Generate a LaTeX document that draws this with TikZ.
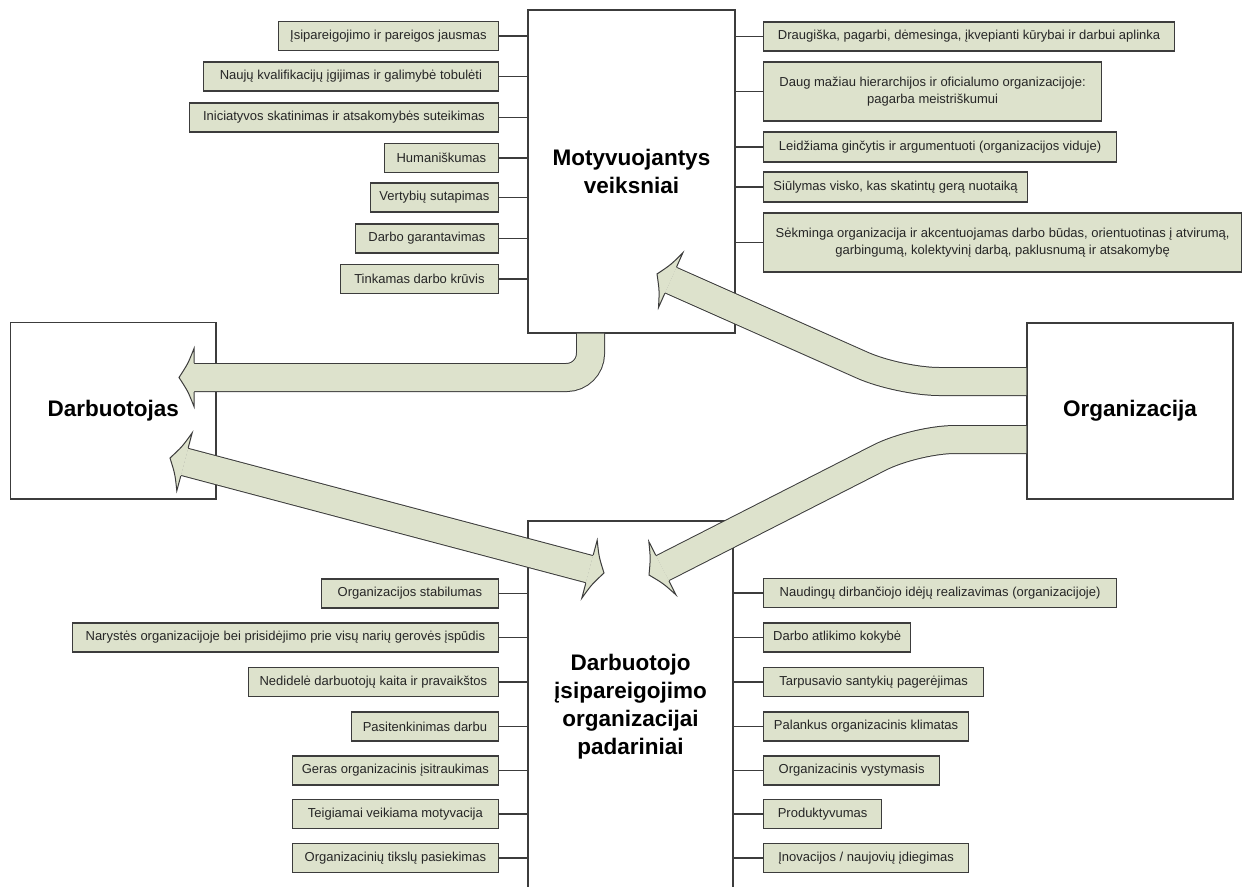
\documentclass[tikz,border=0pt]{standalone}
\usepackage{fontspec}
\setmainfont{Liberation Sans}
\usetikzlibrary{calc}
\definecolor{bandfill}{RGB}{221,226,204}
\definecolor{edgecol}{RGB}{60,60,60}
\definecolor{txtcol}{RGB}{38,38,38}
\newcommand\headpath[5]{%
  \coordinate (hm1) at ($(#2)!0.5!(#3)$);
  \coordinate (hm2) at ($(#4)!0.5!(#3)$);
  \filldraw[head] (#1) -- (#2) .. controls ($(hm1)!0.1!90:(#3)$) .. (#3)
     .. controls ($(hm2)!0.1!-90:(#3)$) .. (#4) -- (#5);}
\begin{document}
\begin{tikzpicture}[x=1pt,y=-1pt,
  bigbox/.style={draw=edgecol, line width=1.2pt, fill=white, font=\bfseries\fontsize{22.5}{28}\selectfont, align=center, inner sep=0pt, text=black},
  lbl/.style={draw=edgecol, line width=1.2pt, fill=bandfill, font=\fontsize{13}{16.5}\selectfont, align=center, inner sep=0pt, minimum height=29pt, text=txtcol},
  lblL/.style={lbl, anchor=east},
  lblR/.style={lbl, anchor=west},
  link/.style={draw=edgecol, line width=1.1pt},
  band/.style={draw=edgecol, line width=1pt, double=bandfill, double distance=27pt},
  head/.style={draw=edgecol, line width=1pt, fill=bandfill}
]
\useasboundingbox (0,0) rectangle (1242,886);

% main boxes
\node[bigbox, minimum width=207pt, minimum height=323pt] (mot) at (631.5,171.5) {Motyvuojantys\\veiksniai};
\node[bigbox, minimum width=205.5pt, minimum height=176.5pt] (darb) at (113.25,410.75) {Darbuotojas};
\node[bigbox, minimum width=206pt, minimum height=176pt] (org) at (1130,411) {Organizacija};
\node[bigbox, minimum width=205pt, minimum height=372pt] (pad) at (630.5,707) {Darbuotojo\\įsipareigojimo\\organizacijai\\padariniai};

% top-left labels
\node[lblL, minimum width=220pt] (tl1) at (499,36) {Įsipareigojimo ir pareigos jausmas};
\node[lblL, minimum width=295pt] (tl2) at (499,76.5) {Naujų kvalifikacijų įgijimas ir galimybė tobulėti};
\node[lblL, minimum width=309pt] (tl3) at (499,117.5) {Iniciatyvos skatinimas ir atsakomybės suteikimas};
\node[lblL, minimum width=114pt] (tl4) at (499,158) {Humaniškumas};
\node[lblL, minimum width=128pt] (tl5) at (499,197.5) {Vertybių sutapimas};
\node[lblL, minimum width=143pt] (tl6) at (499,238.5) {Darbo garantavimas};
\node[lblL, minimum width=158pt] (tl7) at (499,279) {Tinkamas darbo krūvis};
\foreach \n in {tl1,tl2,tl3,tl4,tl5,tl6,tl7} \draw[link] (\n.east) -- (\n.east -| mot.west);

% top-right labels
\node[lblR, minimum width=411pt] (tr1) at (763,36.5) {Draugiška, pagarbi, dėmesinga, įkvepianti kūrybai ir darbui aplinka};
\node[lblR, minimum width=338pt, minimum height=59pt] (tr2) at (763,91.5) {Daug mažiau hierarchijos ir oficialumo organizacijoje:\\pagarba meistriškumui};
\node[lblR, minimum width=353pt, minimum height=30pt] (tr3) at (763,147) {Leidžiama ginčytis ir argumentuoti (organizacijos viduje)};
\node[lblR, minimum width=264pt, minimum height=30pt] (tr4) at (763,187) {Siūlymas visko, kas skatintų gerą nuotaiką};
\node[lblR, minimum width=478pt, minimum height=59pt] (tr5) at (763,242.5) {Sėkminga organizacija ir akcentuojamas darbo būdas, orientuotinas į atvirumą,\\garbingumą, kolektyvinį darbą, paklusnumą ir atsakomybę};
\foreach \n in {tr1,tr2,tr3,tr4,tr5} \draw[link] (\n.west) -- (\n.west -| mot.east);

% bottom-left labels
\node[lblL, minimum width=177pt] (bl1) at (499,593.5) {Organizacijos stabilumas};
\node[lblL, minimum width=426pt] (bl2) at (499,637.5) {Narystės organizacijoje bei prisidėjimo prie visų narių gerovės įspūdis};
\node[lblL, minimum width=250pt] (bl3) at (499,682) {Nedidelė darbuotojų kaita ir pravaikštos};
\node[lblL, minimum width=147pt] (bl4) at (499,726.5) {Pasitenkinimas darbu};
\node[lblL, minimum width=206pt] (bl5) at (499,770.5) {Geras organizacinis įsitraukimas};
\node[lblL, minimum width=206pt] (bl6) at (499,814) {Teigiamai veikiama motyvacija};
\node[lblL, minimum width=206pt] (bl7) at (499,858) {Organizacinių tikslų pasiekimas};
\foreach \n in {bl1,bl2,bl3,bl4,bl5,bl6,bl7} \draw[link] (\n.east) -- (\n.east -| pad.west);

% bottom-right labels
\node[lblR, minimum width=353pt] (br1) at (763,593) {Naudingų dirbančiojo idėjų realizavimas (organizacijoje)};
\node[lblR, minimum width=147pt] (br2) at (763,637.5) {Darbo atlikimo kokybė};
\node[lblR, minimum width=220pt] (br3) at (763,682) {Tarpusavio santykių pagerėjimas};
\node[lblR, minimum width=205pt] (br4) at (763,726.5) {Palankus organizacinis klimatas};
\node[lblR, minimum width=176pt] (br5) at (763,770.5) {Organizacinis vystymasis};
\node[lblR, minimum width=118pt] (br6) at (763,814) {Produktyvumas};
\node[lblR, minimum width=205pt] (br7) at (763,858) {Įnovacijos / naujovių įdiegimas};
\foreach \n in {br1,br2,br3,br4,br5,br6,br7} \draw[link] (\n.west) -- (\n.west -| pad.east);

% arrow A: Motyvuojantys -> Darbuotojas
\coordinate (aS) at (590.5,333.7);
\coordinate (aC) at (590.5,377.5);
\coordinate (aB) at (194,377.5);
\draw[band, rounded corners=24pt] (aS) -- (aC) -- (aB);
\coordinate (aE1) at (194,363);
\coordinate (aW1) at (194,348.5);
\coordinate (aT) at (179,377.5);
\coordinate (aW2) at (194,406.5);
\coordinate (aE2) at (194,392);
\headpath{aE1}{aW1}{aT}{aW2}{aE2}

% arrow B: Darbuotojas <-> padariniai
\coordinate (bL) at (184.5,461.84);
\coordinate (bR) at (589.5,569.16);
\draw[band] (bL) -- (bR);
\coordinate (bLE1) at (188.2,447.8);
\coordinate (bLW1) at (192.2,432.8);
\coordinate (bLT) at (170,458);
\coordinate (bLW2) at (176.8,490.8);
\coordinate (bLE2) at (180.8,475.9);
\headpath{bLE1}{bLW1}{bLT}{bLW2}{bLE2}
\coordinate (bRE1) at (593.2,555.1);
\coordinate (bRW1) at (597.2,540.2);
\coordinate (bRT) at (604,573);
\coordinate (bRW2) at (581.8,598.2);
\coordinate (bRE2) at (585.8,583.2);
\headpath{bRE2}{bRW2}{bRT}{bRW1}{bRE1}

% arrow C: Organizacija -> Motyvuojantys
\coordinate (cS) at (1026.4,381.5);
\coordinate (cC) at (899,381.5);
\coordinate (cB) at (670.7,280.1);
\draw[band, rounded corners=40pt] (cS) -- (cC) -- (cB);
\coordinate (cE1) at (676.6,266.85);
\coordinate (cW1) at (682.9,252.7);
\coordinate (cT) at (657,274);
\coordinate (cW2) at (658.5,307.5);
\coordinate (cE2) at (664.8,293.35);
\headpath{cE1}{cW1}{cT}{cW2}{cE2}

% arrow D: Organizacija -> padariniai
\coordinate (dS) at (1026.4,439.5);
\coordinate (dC) at (915,439.5);
\coordinate (dB) at (662.4,568.2);
\draw[band, rounded corners=40pt] (dS) -- (dC) -- (dB);
\coordinate (dE1) at (655.8,555.3);
\coordinate (dW1) at (648.8,541.5);
\coordinate (dT) at (649,575);
\coordinate (dW2) at (676.0,594.9);
\coordinate (dE2) at (669.0,581.1);
\headpath{dE1}{dW1}{dT}{dW2}{dE2}
\end{tikzpicture}
\end{document}
